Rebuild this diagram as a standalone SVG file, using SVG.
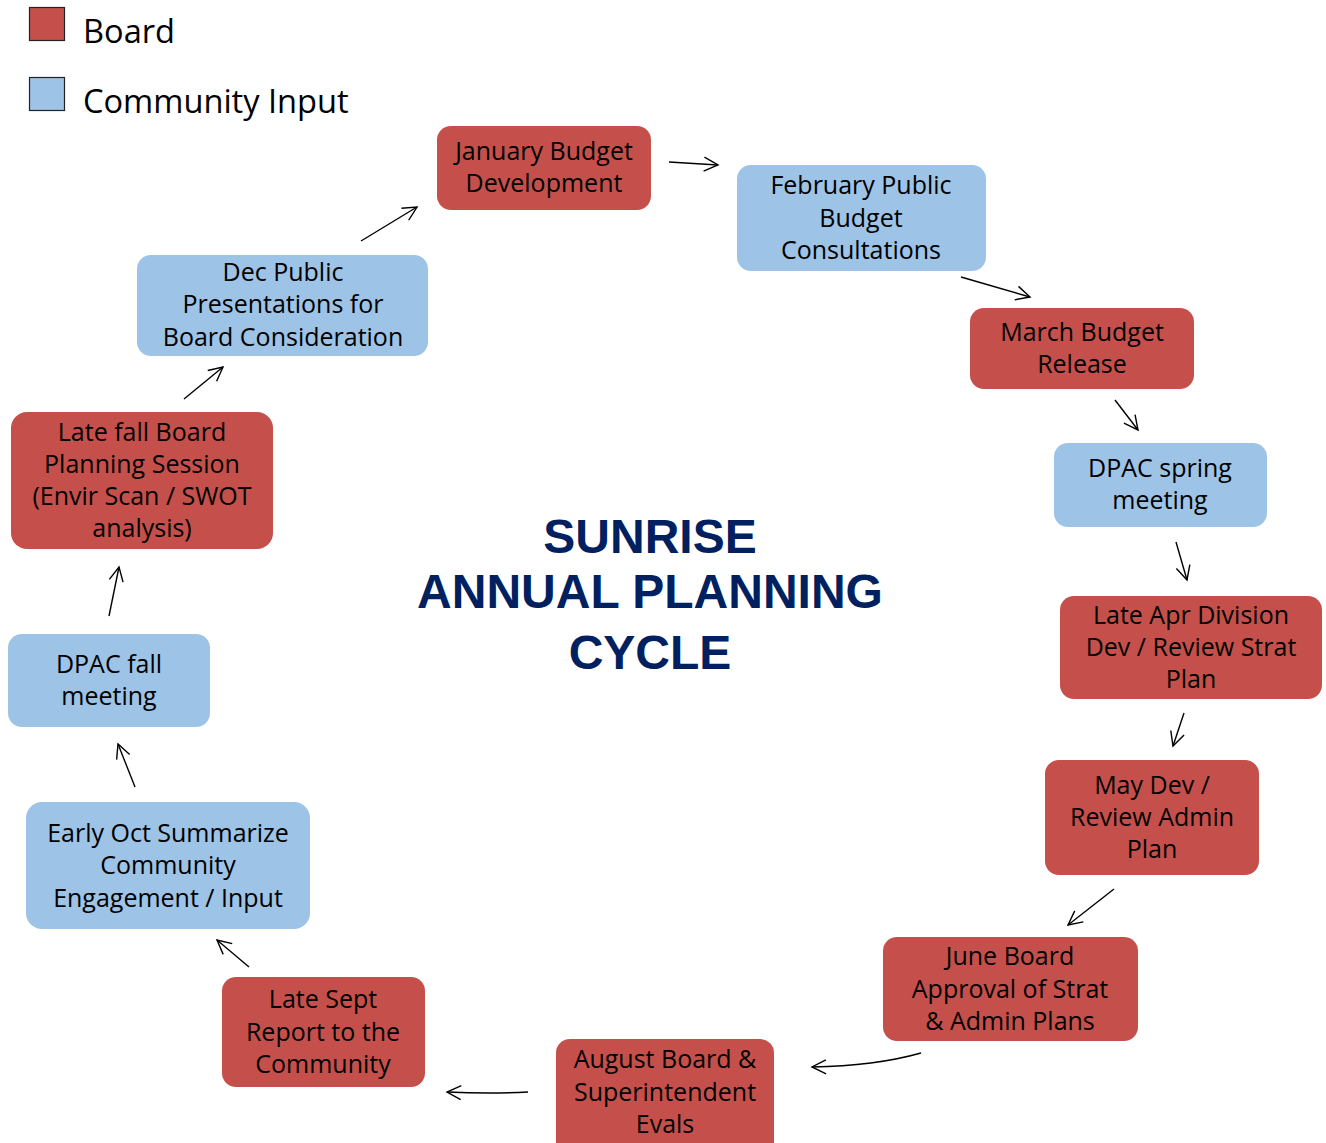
<svg xmlns="http://www.w3.org/2000/svg" width="1326" height="1143" viewBox="0 0 1326 1143">
<style>
.board{fill:#C5504B;}
.comm{fill:#9DC3E6;}
.t{font-family:"Open Sans","Noto Sans",sans-serif;font-size:25px;fill:#000;text-anchor:middle;}
.leg{font-family:"Open Sans","Noto Sans",sans-serif;font-size:32.6px;fill:#000;}
.title{font-family:"Liberation Sans",Arial,sans-serif;font-weight:bold;font-size:48px;fill:#002060;text-anchor:middle;}
.c{fill:none;stroke:#000;stroke-width:1.4;}
</style>
<defs>
<marker id="ah" markerUnits="userSpaceOnUse" markerWidth="20" markerHeight="20" viewBox="0 0 20 20" refX="16" refY="10" orient="auto">
<path d="M2,3 L16,10 L2,17" fill="none" stroke="#000" stroke-width="1.4"/>
</marker>
</defs>
<rect width="1326" height="1143" fill="#fff"/>
<g id="legend">
<rect x="29.5" y="7.5" width="35" height="33" class="board" stroke="#222" stroke-width="1.2"/>
<text x="83" y="43" class="leg">Board</text>
<rect x="29.5" y="77.5" width="35" height="33" class="comm" stroke="#222" stroke-width="1.2"/>
<text x="83" y="113" class="leg">Community Input</text>
</g>
<g id="title">
<text x="650" y="553" class="title">SUNRISE</text>
<text x="650" y="608" class="title">ANNUAL PLANNING</text>
<text x="650" y="669" class="title">CYCLE</text>
</g>
<g id="connectors">
<path class="c" d="M669,162 L718,165" marker-end="url(#ah)"/>
<path class="c" d="M961,277 L1030,297" marker-end="url(#ah)"/>
<path class="c" d="M1115,400 L1138,430" marker-end="url(#ah)"/>
<path class="c" d="M1176,542 L1187,580" marker-end="url(#ah)"/>
<path class="c" d="M1184,713 L1173,746" marker-end="url(#ah)"/>
<path class="c" d="M1114,889 L1068,925" marker-end="url(#ah)"/>
<path class="c" d="M921,1053 Q875,1066 812,1067" marker-end="url(#ah)"/>
<path class="c" d="M528,1092 Q490,1094 447,1092" marker-end="url(#ah)"/>
<path class="c" d="M249,967 L217,940" marker-end="url(#ah)"/>
<path class="c" d="M135,787 L118,744" marker-end="url(#ah)"/>
<path class="c" d="M109,616 L119,567" marker-end="url(#ah)"/>
<path class="c" d="M184,399 L223,367" marker-end="url(#ah)"/>
<path class="c" d="M361,241 L417,207" marker-end="url(#ah)"/>
</g>
<g id="n-jan">
<rect x="437" y="126" width="214" height="84" rx="14" class="board"/>
<text class="t" x="544" y="160">January Budget</text>
<text class="t" x="544" y="192">Development</text>
</g>
<g id="n-feb">
<rect x="737" y="165" width="249" height="106" rx="14" class="comm"/>
<text class="t" x="861" y="194">February Public</text>
<text class="t" x="861" y="227">Budget</text>
<text class="t" x="861" y="259">Consultations</text>
</g>
<g id="n-mar">
<rect x="970" y="308" width="224" height="81" rx="14" class="board"/>
<text class="t" x="1082" y="341">March Budget</text>
<text class="t" x="1082" y="373">Release</text>
</g>
<g id="n-dpac-spring">
<rect x="1054" y="443" width="213" height="84" rx="14" class="comm"/>
<text class="t" x="1160" y="477">DPAC spring</text>
<text class="t" x="1160" y="509">meeting</text>
</g>
<g id="n-apr">
<rect x="1060" y="596" width="262" height="103" rx="14" class="board"/>
<text class="t" x="1191" y="624">Late Apr Division</text>
<text class="t" x="1191" y="656">Dev / Review Strat</text>
<text class="t" x="1191" y="688">Plan</text>
</g>
<g id="n-may">
<rect x="1045" y="760" width="214" height="115" rx="14" class="board"/>
<text class="t" x="1152" y="794">May Dev /</text>
<text class="t" x="1152" y="826">Review Admin</text>
<text class="t" x="1152" y="858">Plan</text>
</g>
<g id="n-june">
<rect x="883" y="937" width="255" height="104" rx="14" class="board"/>
<text class="t" x="1010" y="965">June Board</text>
<text class="t" x="1010" y="998">Approval of Strat</text>
<text class="t" x="1010" y="1030">&amp; Admin Plans</text>
</g>
<g id="n-aug">
<rect x="556" y="1039" width="218" height="120" rx="14" class="board"/>
<text class="t" x="665" y="1068">August Board &amp;</text>
<text class="t" x="665" y="1101">Superintendent</text>
<text class="t" x="665" y="1133">Evals</text>
</g>
<g id="n-sept">
<rect x="222" y="977" width="203" height="110" rx="14" class="board"/>
<text class="t" x="323" y="1008">Late Sept</text>
<text class="t" x="323" y="1041">Report to the</text>
<text class="t" x="323" y="1073">Community</text>
</g>
<g id="n-oct">
<rect x="26" y="802" width="284" height="127" rx="16" class="comm"/>
<text class="t" x="168" y="842">Early Oct Summarize</text>
<text class="t" x="168" y="874">Community</text>
<text class="t" x="168" y="907">Engagement / Input</text>
</g>
<g id="n-dpac-fall">
<rect x="8" y="634" width="202" height="93" rx="14" class="comm"/>
<text class="t" x="109" y="673">DPAC fall</text>
<text class="t" x="109" y="705">meeting</text>
</g>
<g id="n-latefall">
<rect x="11" y="412" width="262" height="137" rx="16" class="board"/>
<text class="t" x="142" y="441">Late fall Board</text>
<text class="t" x="142" y="473">Planning Session</text>
<text class="t" x="142" y="505">(Envir Scan / SWOT</text>
<text class="t" x="142" y="537">analysis)</text>
</g>
<g id="n-dec">
<rect x="137" y="255" width="291" height="101" rx="14" class="comm"/>
<text class="t" x="283" y="281">Dec Public</text>
<text class="t" x="283" y="313">Presentations for</text>
<text class="t" x="283" y="346">Board Consideration</text>
</g>
</svg>
